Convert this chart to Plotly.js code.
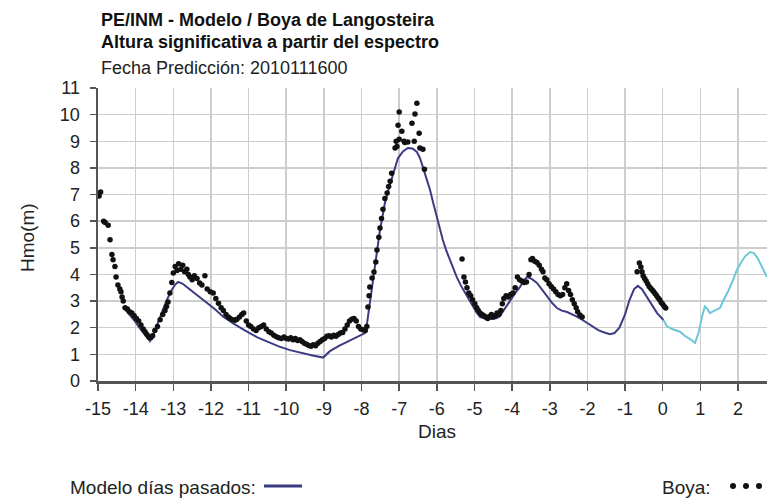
<!DOCTYPE html>
<html>
<head>
<meta charset="utf-8">
<script src="https://cdn.plot.ly/plotly-3.0.1.min.js"></script>
<style>html,body{margin:0;padding:0;background:#fff;}#chart{width:767px;height:501px;}</style>
</head>
<body>
<div id="chart"></div>
<script>
// ---- Data ----
// Model, past days (dark blue line)
var modelPastX = [-14.34,-14.2,-14.05,-13.9,-13.75,-13.62,-13.5,-13.35,-13.2,-13.05,-12.95,-12.87,-12.75,-12.6,-12.45,-12.3,-12.1,-11.9,-11.68,-11.4,-11.1,-10.78,-10.5,-10.2,-9.9,-9.6,-9.3,-9.02,-8.84,-8.6,-8.39,-8.15,-7.91,-7.85,-7.78,-7.71,-7.64,-7.57,-7.51,-7.44,-7.38,-7.28,-7.19,-7.1,-7.03,-6.9,-6.77,-6.65,-6.53,-6.45,-6.37,-6.28,-6.18,-6.09,-6.0,-5.92,-5.84,-5.75,-5.65,-5.56,-5.47,-5.36,-5.25,-5.14,-5.04,-4.95,-4.85,-4.7,-4.55,-4.4,-4.32,-4.2,-4.06,-3.92,-3.79,-3.7,-3.61,-3.5,-3.34,-3.2,-3.07,-2.94,-2.81,-2.68,-2.54,-2.4,-2.28,-2.14,-2.0,-1.85,-1.7,-1.55,-1.4,-1.28,-1.15,-1.0,-0.88,-0.76,-0.66,-0.55,-0.42,-0.3,-0.15,0.02];
var modelPastY = [2.78,2.55,2.3,2.0,1.72,1.5,1.85,2.4,2.95,3.4,3.62,3.72,3.65,3.48,3.32,3.15,2.93,2.7,2.42,2.15,1.9,1.65,1.48,1.3,1.16,1.05,0.96,0.88,1.12,1.32,1.46,1.62,1.8,2.2,2.93,3.6,4.28,4.98,5.67,6.2,6.68,7.2,7.66,8.05,8.37,8.62,8.75,8.73,8.6,8.38,8.03,7.62,7.17,6.65,6.16,5.7,5.29,4.9,4.54,4.2,3.9,3.58,3.3,3.02,2.78,2.58,2.4,2.34,2.33,2.36,2.45,2.7,3.04,3.3,3.53,3.75,3.9,3.85,3.68,3.42,3.15,2.93,2.74,2.64,2.59,2.5,2.42,2.3,2.18,2.02,1.9,1.82,1.76,1.8,2.0,2.5,3.05,3.45,3.57,3.45,3.15,2.85,2.55,2.29];

// Model, forecast (light blue line)
var modelFcX = [0.02,0.11,0.25,0.46,0.6,0.72,0.86,0.95,1.05,1.12,1.18,1.25,1.35,1.45,1.52,1.62,1.75,1.87,1.97,2.08,2.2,2.32,2.42,2.52,2.62,2.72,2.77];
var modelFcY = [2.29,2.06,1.95,1.85,1.68,1.58,1.43,1.8,2.45,2.8,2.72,2.55,2.62,2.7,2.74,3.05,3.4,3.8,4.17,4.45,4.7,4.84,4.8,4.62,4.35,4.05,3.9];

// Buoy observations (black dots)
var buoyX = [-15.0,-14.97,-14.93,-14.85,-14.81,-14.73,-14.68,-14.63,-14.6,-14.55,-14.52,-14.47,-14.42,-14.39,-14.36,-14.33,-14.28,-14.22,-14.16,-14.1,-14.04,-13.98,-13.92,-13.86,-13.8,-13.75,-13.7,-13.65,-13.6,-13.55,-13.49,-13.42,-13.35,-13.28,-13.22,-13.18,-13.14,-13.09,-13.04,-13.0,
 -12.95,-12.9,-12.86,-12.8,-12.75,-12.7,-12.64,-12.6,-12.56,-12.5,-12.44,-12.37,-12.3,-12.24,-12.16,-12.1,-12.02,-11.94,-11.87,-11.8,-11.73,-11.67,-11.6,-11.54,-11.49,-11.42,-11.36,-11.31,-11.24,-11.18,-11.13,-11.06,-11.0,-10.94,-10.87,-10.8,-10.73,-10.66,-10.6,-10.53,-10.46,-10.4,-10.33,-10.26,-10.2,-10.13,-10.06,-10.0,
 -9.94,-9.88,-9.82,-9.76,-9.7,-9.64,-9.58,-9.52,-9.46,-9.4,-9.34,-9.28,-9.22,-9.16,-9.1,-9.04,-8.98,-8.92,-8.86,-8.8,-8.74,-8.68,-8.62,-8.56,-8.5,-8.44,-8.38,-8.32,-8.26,-8.2,-8.14,-8.08,-8.02,-7.96,-7.9,-7.86,
 -7.83,-7.8,-7.78,-7.72,-7.67,-7.62,-7.59,-7.54,-7.51,-7.47,-7.43,-7.38,-7.32,-7.28,-7.24,-7.2,-7.11,-7.08,-7.06,-7.03,-7.0,-7.0,-6.93,-6.87,-6.85,-6.77,-6.66,-6.6,-6.58,-6.53,-6.47,-6.45,-6.37,-6.33,
 -5.33,-5.28,-5.24,-5.2,-5.15,-5.1,-5.05,-4.99,-4.94,-4.9,-4.85,-4.8,-4.75,-4.7,-4.65,-4.6,-4.55,-4.5,-4.45,-4.4,-4.35,-4.3,-4.26,-4.22,-4.16,-4.1,-4.04,-3.98,-3.92,-3.86,-3.8,-3.74,-3.68,-3.62,-3.55,-3.5,-3.46,-3.4,-3.34,-3.28,-3.22,-3.18,-3.13,-3.08,-3.02,-2.96,-2.9,-2.84,-2.78,-2.72,-2.66,-2.6,-2.55,-2.5,-2.45,-2.4,-2.35,-2.3,-2.26,-2.2,-2.14,
 -0.68,-0.62,-0.58,-0.55,-0.52,-0.48,-0.44,-0.4,-0.36,-0.32,-0.28,-0.24,-0.2,-0.16,-0.12,-0.08,-0.04,0.0,0.04,0.08];
var buoyY = [7.05,6.95,7.1,6.0,5.95,5.85,5.3,4.75,4.55,4.3,3.9,3.6,3.45,3.35,3.15,3.0,2.75,2.7,2.6,2.55,2.45,2.35,2.25,2.1,1.95,1.85,1.75,1.65,1.62,1.7,1.9,2.05,2.3,2.5,2.65,2.8,2.97,3.3,3.7,4.05,
 4.3,4.15,4.4,4.2,4.35,4.1,4.2,4.0,3.9,3.8,3.95,3.85,3.68,3.6,3.95,3.45,3.35,3.3,3.1,2.92,2.75,2.65,2.5,2.4,2.35,2.3,2.28,2.32,2.4,2.5,2.55,2.25,2.1,2.05,1.95,1.9,2.0,2.05,2.1,1.95,1.85,1.8,1.72,1.66,1.62,1.6,1.65,1.6,
 1.58,1.62,1.55,1.6,1.52,1.55,1.48,1.42,1.38,1.33,1.3,1.36,1.32,1.42,1.48,1.55,1.6,1.68,1.7,1.65,1.72,1.68,1.75,1.8,1.82,1.95,2.1,2.25,2.32,2.35,2.25,2.05,1.95,1.92,1.9,2.05,
 2.78,3.2,3.53,3.87,4.09,4.47,4.92,5.4,5.74,6.1,6.45,6.85,7.06,7.3,7.5,7.8,8.75,9.0,8.8,9.6,10.1,9.08,9.38,9.0,8.95,8.97,9.68,9.0,10.02,10.43,9.3,8.75,8.7,7.95,
 4.58,3.9,3.72,3.5,3.3,3.2,3.05,2.9,2.75,2.65,2.55,2.5,2.45,2.4,2.35,2.42,2.5,2.4,2.45,2.55,2.5,2.65,2.9,3.1,3.2,3.15,3.25,3.3,3.5,3.9,3.8,3.75,3.7,3.72,4.0,4.55,4.6,4.5,4.45,4.35,4.2,4.1,3.87,3.8,3.65,3.55,3.45,3.35,3.25,3.2,3.25,3.5,3.65,3.4,3.25,3.05,2.9,2.75,2.6,2.48,2.4,
 4.1,4.43,4.28,4.1,3.95,3.85,3.75,3.65,3.55,3.48,3.42,3.35,3.28,3.2,3.12,3.05,2.95,2.88,2.8,2.74];

var xTickVals = [-15,-14,-13,-12,-11,-10,-9,-8,-7,-6,-5,-4,-3,-2,-1,0,1,2];
var yTickVals = [0,1,2,3,4,5,6,7,8,9,10,11];

var titleLines = ["PE/INM - Modelo / Boya de Langosteira", "Altura significativa a partir del espectro", "Fecha Predicción: 2010111600"];
var legendModelLabel = "Modelo días pasados:";
var legendBuoyLabel = "Boya:";

// ---- Styling ----
var NAVY = "#3b3b84", CYAN = "#6cc7d6", FONT = "Liberation Sans, Arial, sans-serif", TXT = "#222";

var traces = [
  {x: modelPastX, y: modelPastY, type: "scatter", mode: "lines", line: {color: NAVY, width: 2}, hoverinfo: "skip"},
  {x: modelFcX, y: modelFcY, type: "scatter", mode: "lines", line: {color: CYAN, width: 2}, hoverinfo: "skip"},
  {x: buoyX, y: buoyY, type: "scatter", mode: "markers", marker: {color: "#111", size: 5.5}, hoverinfo: "skip"}
];

function pxX(p){ return (p - 98) / 669; }
function pxY(p){ return (381 - p) / 293; }

var layout = {
  width: 767, height: 501,
  margin: {l: 98, r: 0, t: 88, b: 120, pad: 0},
  paper_bgcolor: "#fff", plot_bgcolor: "#fff",
  showlegend: false,
  font: {family: FONT, size: 17, color: TXT},
  xaxis: {
    range: [-15, 2.77], tickvals: xTickVals, ticktext: xTickVals.map(String),
    showgrid: true, gridcolor: "#cdcdcd", gridwidth: 1.5,
    zeroline: false, showline: true, linecolor: "#555", linewidth: 2.5,
    ticks: "outside", ticklen: 7, tickwidth: 1.5, tickcolor: "#555",
    ticklabelstandoff: 3,
    tickfont: {family: FONT, size: 18, color: TXT}, fixedrange: true
  },
  yaxis: {
    range: [0, 11], tickvals: yTickVals,
    showgrid: true, gridcolor: "#cdcdcd", gridwidth: 1.5,
    zeroline: false, showline: true, linecolor: "#555", linewidth: 2.5,
    ticks: "outside", ticklen: 6, tickwidth: 1.5, tickcolor: "#555",
    ticklabelstandoff: 6,
    tickfont: {family: FONT, size: 18, color: TXT}, fixedrange: true
  },
  annotations: [
    {text: "<b>" + titleLines[0] + "</b>", xref: "paper", yref: "paper", x: pxX(99), y: pxY(20), xanchor: "left", yanchor: "middle", showarrow: false, font: {family: FONT, size: 18, color: "#111"}},
    {text: "<b>" + titleLines[1] + "</b>", xref: "paper", yref: "paper", x: pxX(99), y: pxY(42), xanchor: "left", yanchor: "middle", showarrow: false, font: {family: FONT, size: 18, color: "#111"}},
    {text: titleLines[2], xref: "paper", yref: "paper", x: pxX(99), y: pxY(68), xanchor: "left", yanchor: "middle", showarrow: false, font: {family: FONT, size: 18, color: "#222"}},
    {text: "Hmo(m)", xref: "paper", yref: "paper", x: pxX(27), y: pxY(238), xanchor: "center", yanchor: "middle", textangle: -90, showarrow: false, font: {family: FONT, size: 19, color: TXT}},
    {text: "Dias", xref: "paper", yref: "paper", x: pxX(437), y: pxY(431), xanchor: "center", yanchor: "middle", showarrow: false, font: {family: FONT, size: 19, color: TXT}},
    {text: legendModelLabel, xref: "paper", yref: "paper", x: pxX(68), y: pxY(488), xanchor: "left", yanchor: "middle", showarrow: false, font: {family: FONT, size: 19, color: TXT}},
    {text: legendBuoyLabel, xref: "paper", yref: "paper", x: pxX(713), y: pxY(488), xanchor: "right", yanchor: "middle", showarrow: false, font: {family: FONT, size: 19, color: TXT}}
  ],
  shapes: [
    {type: "line", xref: "paper", yref: "paper", x0: pxX(264), x1: pxX(302), y0: pxY(486), y1: pxY(486), line: {color: NAVY, width: 3}},
    {type: "circle", xref: "paper", yref: "paper", xsizemode: "pixel", ysizemode: "pixel", xanchor: pxX(733), yanchor: pxY(486), x0: -3, x1: 3, y0: -3, y1: 3, fillcolor: "#111", line: {width: 0}},
    {type: "circle", xref: "paper", yref: "paper", xsizemode: "pixel", ysizemode: "pixel", xanchor: pxX(746), yanchor: pxY(486), x0: -3, x1: 3, y0: -3, y1: 3, fillcolor: "#111", line: {width: 0}},
    {type: "circle", xref: "paper", yref: "paper", xsizemode: "pixel", ysizemode: "pixel", xanchor: pxX(759), yanchor: pxY(486), x0: -3, x1: 3, y0: -3, y1: 3, fillcolor: "#111", line: {width: 0}}
  ]
};

Plotly.newPlot("chart", traces, layout, {displayModeBar: false, staticPlot: true});
</script>
</body>
</html>
